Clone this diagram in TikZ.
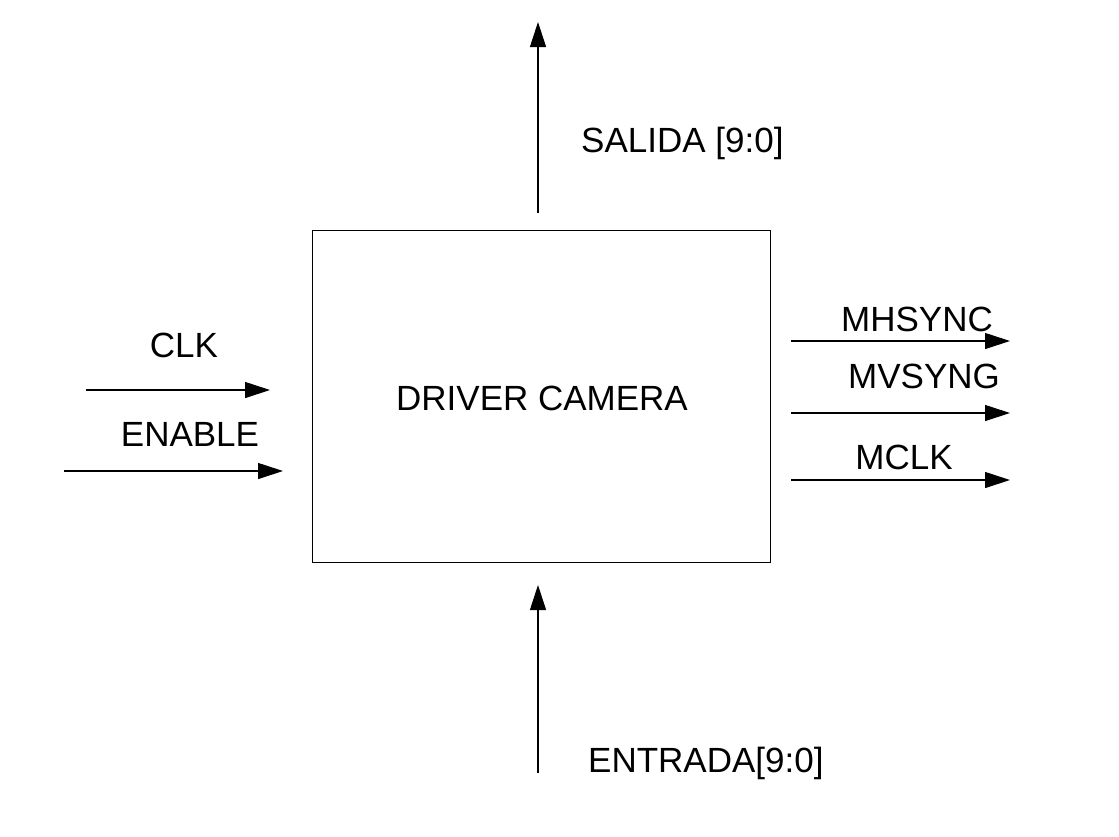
\documentclass[tikz,border=0pt]{standalone}
\usepackage{fontspec}
\setmainfont{Liberation Sans}
\usetikzlibrary{arrows.meta}
\begin{document}
\begin{tikzpicture}[x=1pt,y=-1pt,
  lbl/.style={font=\fontsize{35}{42}\selectfont, inner sep=0pt},
  sig/.style={line width=1.1pt, -{Triangle[length=25pt,width=16pt]}}]
\useasboundingbox (0,0) rectangle (1119,836);
\node[draw, line width=1pt, minimum width=458pt, minimum height=332pt, inner sep=0pt] (box) at (541,396) {};
\node[lbl] (title) at (542,398) {DRIVER CAMERA};
% top
\coordinate (tA) at (538,213); \coordinate (tB) at (538,22);
\draw[sig] (tA) -- (tB);
\node[lbl, anchor=west] (salida) at (581,143) {SALIDA [9:0]};
% bottom
\coordinate (bA) at (538,773); \coordinate (bB) at (538,585);
\draw[sig] (bA) -- (bB);
\node[lbl, anchor=west] (entrada) at (588,763) {ENTRADA[9:0]};
% left
\coordinate (cA) at (86,390); \coordinate (cB) at (270,390);
\draw[sig] (cA) -- (cB);
\node[lbl] (clk) at (184,345) {CLK};
\coordinate (eA) at (64,471); \coordinate (eB) at (283,471);
\draw[sig] (eA) -- (eB);
\node[lbl] (enable) at (190,434) {ENABLE};
% right
\coordinate (hA) at (791,341); \coordinate (hB) at (1010,341);
\draw[sig] (hA) -- (hB);
\node[lbl] (mh) at (917,319) {MHSYNC};
\coordinate (vA) at (791,413); \coordinate (vB) at (1010,413);
\draw[sig] (vA) -- (vB);
\node[lbl] (mv) at (924,376) {MVSYNG};
\coordinate (kA) at (791,480); \coordinate (kB) at (1010,480);
\draw[sig] (kA) -- (kB);
\node[lbl] (mclk) at (904,457) {MCLK};
\end{tikzpicture}
\end{document}
